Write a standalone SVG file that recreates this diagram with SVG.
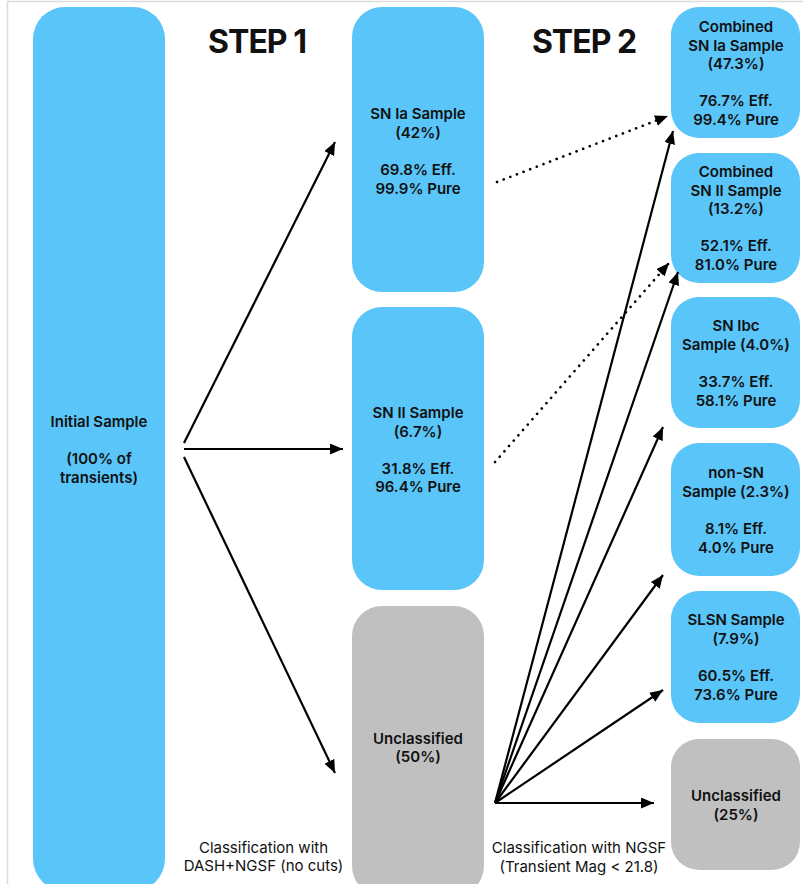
<svg xmlns="http://www.w3.org/2000/svg" width="803" height="884" viewBox="0 0 803 884">
  <style>
    .blue { fill: #5AC5F8; }
    .gray { fill: #C0C0C0; }
    .lbl { font-family: Inter, "Liberation Sans", sans-serif; font-size: 15px; font-weight: 600; fill: #111; text-anchor: middle; }
    .cap { font-family: Inter, "Liberation Sans", sans-serif; font-size: 15px; font-weight: 400; fill: #111; text-anchor: middle; }
    .step { font-family: Inter, "Liberation Sans", sans-serif; font-size: 32px; font-weight: 700; fill: #111; text-anchor: middle; letter-spacing: -1px; }
    .arr { stroke: #000; stroke-width: 2.2; fill: none; marker-end: url(#ah); }
    .dot { stroke: #000; stroke-width: 2.6; fill: none; stroke-linecap: round; stroke-dasharray: 0.1 7; marker-end: url(#ah); }
  </style>
  <defs>
    <marker id="ah" markerUnits="userSpaceOnUse" markerWidth="14" markerHeight="12" refX="13" refY="5.5" orient="auto">
      <path d="M0,0 L13,5.5 L0,11 z" fill="#000"/>
    </marker>
  </defs>
  <rect width="803" height="884" fill="#fff"/>
  <line x1="7" y1="1.5" x2="803" y2="1.5" stroke="#dcdcdc" stroke-width="1.5"/>
  <line x1="7.5" y1="1" x2="7.5" y2="884" stroke="#dcdcdc" stroke-width="1.5"/>

  <text class="step" x="257" y="53">STEP 1</text>
  <text class="step" x="584" y="53">STEP 2</text>

  <g id="initial">
    <rect class="blue" x="33" y="7" width="132" height="884" rx="32"/>
    <text class="lbl" x="99" y="427">Initial Sample</text>
    <text class="lbl" x="99" y="464">(100% of</text>
    <text class="lbl" x="99" y="482.5">transients)</text>
  </g>

  <g id="snia">
    <rect class="blue" x="352" y="7" width="132" height="285" rx="30"/>
    <text class="lbl" x="418" y="119">SN Ia Sample</text>
    <text class="lbl" x="418" y="137.5">(42%)</text>
    <text class="lbl" x="418" y="175">69.8% Eff.</text>
    <text class="lbl" x="418" y="193.5">99.9% Pure</text>
  </g>

  <g id="snii">
    <rect class="blue" x="352" y="307" width="132" height="283" rx="30"/>
    <text class="lbl" x="418" y="418">SN II Sample</text>
    <text class="lbl" x="418" y="436.5">(6.7%)</text>
    <text class="lbl" x="418" y="473.5">31.8% Eff.</text>
    <text class="lbl" x="418" y="492">96.4% Pure</text>
  </g>

  <g id="unclass1">
    <rect class="gray" x="352" y="606" width="132" height="290" rx="30"/>
    <text class="lbl" x="418" y="743.5">Unclassified</text>
    <text class="lbl" x="418" y="762">(50%)</text>
  </g>

  <g id="comb-ia">
    <rect class="blue" x="671" y="7" width="129" height="131" rx="28"/>
    <text class="lbl" x="736" y="32">Combined</text>
    <text class="lbl" x="736" y="50.5">SN Ia Sample</text>
    <text class="lbl" x="736" y="69">(47.3%)</text>
    <text class="lbl" x="736" y="106">76.7% Eff.</text>
    <text class="lbl" x="736" y="124.5">99.4% Pure</text>
  </g>

  <g id="comb-ii">
    <rect class="blue" x="671" y="153" width="129" height="130" rx="28"/>
    <text class="lbl" x="736" y="177">Combined</text>
    <text class="lbl" x="736" y="195.5">SN II Sample</text>
    <text class="lbl" x="736" y="214">(13.2%)</text>
    <text class="lbl" x="736" y="251">52.1% Eff.</text>
    <text class="lbl" x="736" y="269.5">81.0% Pure</text>
  </g>

  <g id="snibc">
    <rect class="blue" x="671" y="297" width="129" height="131" rx="28"/>
    <text class="lbl" x="736" y="331">SN Ibc</text>
    <text class="lbl" x="736" y="349.5">Sample (4.0%)</text>
    <text class="lbl" x="736" y="387">33.7% Eff.</text>
    <text class="lbl" x="736" y="405.5">58.1% Pure</text>
  </g>

  <g id="nonsn">
    <rect class="blue" x="671" y="443" width="129" height="133" rx="28"/>
    <text class="lbl" x="736" y="478">non-SN</text>
    <text class="lbl" x="736" y="496.5">Sample (2.3%)</text>
    <text class="lbl" x="736" y="534">8.1% Eff.</text>
    <text class="lbl" x="736" y="552.5">4.0% Pure</text>
  </g>

  <g id="slsn">
    <rect class="blue" x="671" y="591" width="129" height="132" rx="28"/>
    <text class="lbl" x="736" y="625">SLSN Sample</text>
    <text class="lbl" x="736" y="643.5">(7.9%)</text>
    <text class="lbl" x="736" y="681">60.5% Eff.</text>
    <text class="lbl" x="736" y="699.5">73.6% Pure</text>
  </g>

  <g id="unclass2">
    <rect class="gray" x="671" y="739" width="129" height="131" rx="28"/>
    <text class="lbl" x="736" y="801">Unclassified</text>
    <text class="lbl" x="736" y="819.5">(25%)</text>
  </g>

  <g id="captions">
    <text class="cap" x="263.5" y="853">Classification with</text>
    <text class="cap" x="263.5" y="871">DASH+NGSF (no cuts)</text>
    <text class="cap" x="579" y="853">Classification with NGSF</text>
    <text class="cap" x="579" y="871.5">(Transient Mag &lt; 21.8)</text>
  </g>

  <g id="connectors">
    <line class="arr" x1="184" y1="443" x2="335" y2="142"/>
    <line class="arr" x1="184" y1="449" x2="343" y2="449"/>
    <line class="arr" x1="184" y1="457" x2="335" y2="773"/>
    <line class="dot" x1="497" y1="182" x2="668" y2="116"/>
    <line class="dot" x1="495" y1="462" x2="669" y2="263"/>
    <line class="arr" x1="495" y1="803" x2="673" y2="131"/>
    <line class="arr" x1="495" y1="803" x2="678" y2="272"/>
    <line class="arr" x1="495" y1="803" x2="663" y2="427"/>
    <line class="arr" x1="495" y1="803" x2="663" y2="575"/>
    <line class="arr" x1="495" y1="803" x2="663" y2="690"/>
    <line class="arr" x1="495" y1="803" x2="654" y2="803"/>
  </g>
</svg>
